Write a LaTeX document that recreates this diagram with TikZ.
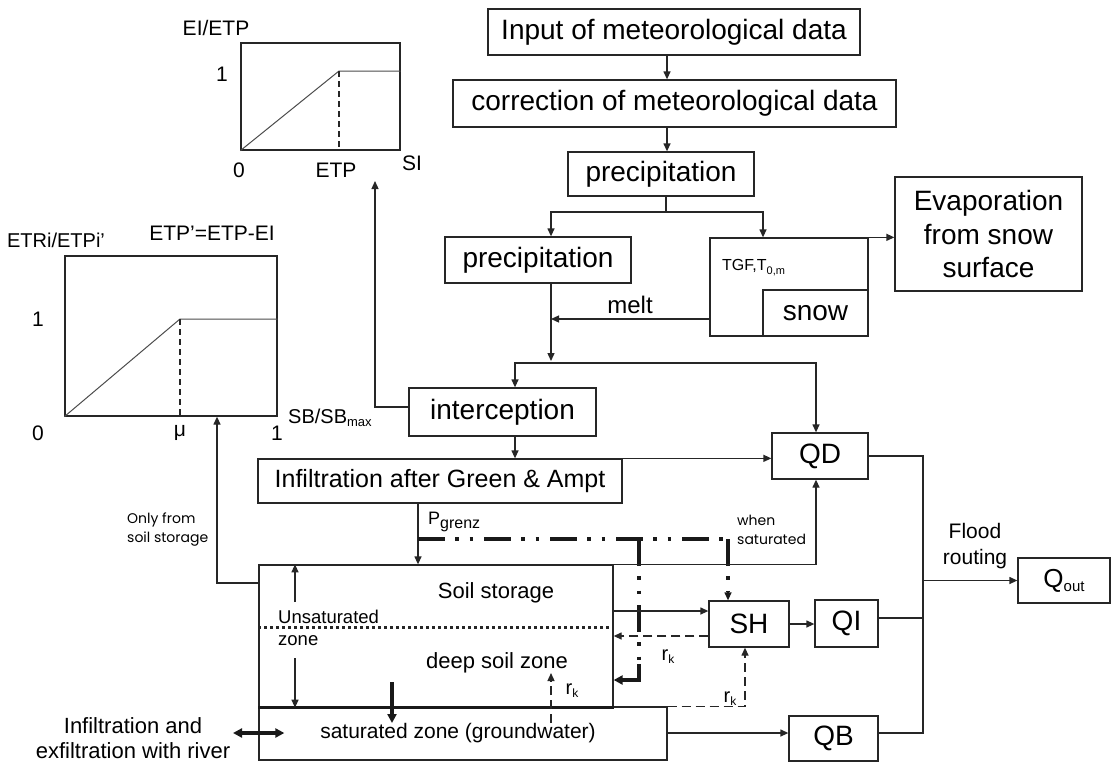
\documentclass[tikz,border=0pt]{standalone}
\usepackage{fontspec}
\setmainfont{Liberation Sans}
\newfontfamily\gfont{Poppins}
\usetikzlibrary{arrows.meta,calc}
\begin{document}
\begin{tikzpicture}[x=1pt,y=-1pt,
  ln/.style={line width=1.3pt, draw=black!85},
  box/.style={ln, rectangle, inner sep=0pt, align=center},
  tip/.style={-{Triangle[length=8pt,width=7pt]}},
  arr/.style={ln, tip},
  thk/.style={line width=3.2pt, draw=black!90},
  dsh/.style={dash pattern=on 9pt off 5pt},
  gdash/.style={ln, dash pattern=on 6pt off 4pt},
  dd/.style={line width=3.4pt, draw=black!90, dash pattern=on 27pt off 10pt on 3.5pt off 11pt on 3.5pt off 11pt},
  f28/.style={font=\fontsize{28}{33.5}\selectfont},
  f25/.style={font=\fontsize{25}{30}\selectfont},
  f24/.style={font=\fontsize{24}{28}\selectfont},
  f22/.style={font=\fontsize{22}{25}\selectfont},
  f21/.style={font=\fontsize{21}{26}\selectfont},
  f20/.style={font=\fontsize{20}{24}\selectfont},
  f18/.style={font=\fontsize{18.5}{22}\selectfont},
  fg/.style={font=\gfont\fontsize{14}{19}\selectfont},
  lbl/.style={inner sep=0pt}
]
\useasboundingbox (0,0) rectangle (1113,763);
\fill[white] (0,0) rectangle (1113,763);

% ---------- boxes ----------
\node[box,f28,minimum width=372pt,minimum height=46pt] (input) at (674,32) {Input of meteorological data};
\node[box,f28,minimum width=443pt,minimum height=47pt] (corr) at (674.5,103.5) {correction of meteorological data};
\node[box,f28,minimum width=186pt,minimum height=44pt] (prec1) at (661,174) {precipitation};
\node[box,f28,minimum width=186pt,minimum height=46pt] (prec2) at (538,260) {precipitation};
\node[box,minimum width=158pt,minimum height=98pt] (snowo) at (789,287) {};
\node[box,f28,minimum width=105pt,minimum height=46pt] (snow) at (815.5,313) {snow};
\node[box,f28,minimum width=187pt,minimum height=114pt] (evap) at (988.5,234) {Evaporation\\from snow\\surface};
\node[box,f28,minimum width=187pt,minimum height=48pt] (intc) at (502.5,412) {interception};
\node[box,f25,minimum width=364pt,minimum height=44pt] (infil) at (440,481) {Infiltration after Green \& Ampt};
\node[box,f28,minimum width=96pt,minimum height=46pt] (QD) at (820,456) {QD};
\node[box,minimum width=354pt,minimum height=142pt] (soil) at (436,636) {};
\node[box,minimum width=408pt,minimum height=53pt] (sat) at (463,733.5) {};
\node[box,f28,minimum width=80pt,minimum height=46pt] (SH) at (749,624) {SH};
\node[box,f28,minimum width=63pt,minimum height=47pt] (QI) at (846.5,623.5) {QI};
\node[box,f28,minimum width=89pt,minimum height=45pt] (QB) at (833.5,738.5) {QB};
\node[box,minimum width=92pt,minimum height=45pt] (Qout) at (1064,580.5) {};
\node[lbl,font=\fontsize{26}{26}\selectfont] at (Qout.center) {Q\raisebox{-4pt}{\fontsize{15}{15}\selectfont out}};

% ---------- graphs ----------
\node[box,minimum width=159pt,minimum height=107pt] (g1) at (320.5,96.5) {};
\draw[line width=1pt,draw=black!70] (g1.south west) -- (339,71) -- (g1.east |- 0,71);
\draw[gdash] (339,71) -- (339,150);
\node[lbl,f21] at (216,28) {EI/ETP};
\node[lbl,f21] at (222,74) {1};
\node[lbl,f21] at (239,170) {0};
\node[lbl,f21] at (336,170) {ETP};
\node[lbl,f21] at (412,163) {SI};

\node[box,minimum width=212pt,minimum height=160pt] (g2) at (171,336) {};
\draw[line width=1pt,draw=black!70] (g2.south west) -- (180,319) -- (g2.east |- 0,319);
\draw[gdash] (180,319) -- (180,416);
\node[lbl,f20] at (56,240) {ETRi/ETPi’};
\node[lbl,f21] at (212,233) {ETP’=ETP-EI};
\node[lbl,f21] at (38,319) {1};
\node[lbl,f21] at (38,433) {0};
\node[lbl,f21] at (180,433) {μ};
\node[lbl,f21] at (277,433) {1};
\node[lbl,f20,anchor=west] at (288,418) {SB/SB\raisebox{-3pt}{\fontsize{13}{13}\selectfont max}};

% ---------- coordinates ----------
\coordinate (split1) at (666,212);
\coordinate (hbar) at (551,363);
\coordinate (iy) at (0,407);
\coordinate (siTip) at (375,181);
\coordinate (lft) at (217,583);
\coordinate (dd1) at (418,539);
\coordinate (ddb) at (639,539);
\coordinate (ddr) at (728,539);
\coordinate (hook) at (639,680);
\coordinate (SHin) at (0,611);
\coordinate (ry1) at (0,636);
\coordinate (cx) at (923,0);
\coordinate (qby) at (0,733);
\coordinate (qiy) at (0,618);
\coordinate (dl) at (0,627);

% ---------- connectors ----------
\draw[arr] ([xshift=-7pt]input.south) -- ([xshift=-7.5pt]corr.north);
\draw[arr] ([xshift=-7.5pt]corr.south) -- ([xshift=6pt]prec1.north);
\draw[ln] ([xshift=5pt]prec1.south) -- (split1);
\draw[arr] (split1) -| ([xshift=13pt]prec2.north);
\draw[arr] (split1) -| ([xshift=-26pt]snowo.north);
\draw[arr] (snowo.north east) -- (evap.west |- snowo.north east);
% melt
\draw[arr] ($(snowo.west)+(0,32)$) -- (hbar |- 0,319);
\node[lbl,f24] at (630,305) {melt};
\node[lbl,anchor=west,font=\fontsize{16}{16}\selectfont] at (722,268) {TGF,T\raisebox{-4pt}{\fontsize{11}{11}\selectfont 0,m}};
\draw[arr] ([xshift=13pt]prec2.south) -- ($(hbar)+(0,-2)$);
\draw[arr] (hbar) -| ([xshift=12.5pt]intc.north);
\draw[arr] (hbar) -| ([xshift=-4pt]QD.north);
% interception -> graph 1
\draw[arr] (intc.west |- iy) -| (siTip);
\draw[arr] ([xshift=12.5pt]intc.south) -- ([xshift=75pt]infil.north);
\draw[arr] (infil.north east) -- (infil.north east -| QD.west);
% P grenz
\draw[arr] ([xshift=-22pt]infil.south) -- ([xshift=-18pt]soil.north);
\node[lbl,anchor=west,font=\fontsize{18}{18}\selectfont] at (428,522) {P\raisebox{-4pt}{\fontsize{16}{16}\selectfont grenz}};
% dash-dot lines
\draw[dd] (dd1) -- ($(ddr)+(1.7,0)$);
\draw[dd] (ddr) -- ([xshift=-21pt,yshift=8pt]SH.north);
\draw[ln,tip,draw=black!90] ([xshift=-21pt,yshift=8pt]SH.north) -- ([xshift=-21pt]SH.north);
\draw[dd] (ddb) -- ($(hook)+(0,-16)$);
\draw[thk,-{Triangle[length=9pt,width=9pt]}] ($(hook)+(0,-16)$) -- (hook) -- (soil.east |- hook);
% when saturated
\draw[arr] (soil.north east) -| ([xshift=-4pt]QD.south);
\node[lbl,fg,anchor=west,align=left] at (737,530) {when\\saturated};
% soil -> SH, SH -> soil
\draw[arr] (soil.east |- SHin) -- (SH.west |- SHin);
\draw[ln,dsh,tip] (SH.west |- ry1) -- (soil.east |- ry1);
\node[lbl,f20] at (668,657) {r\raisebox{-3pt}{\fontsize{12}{12}\selectfont k}};
% sat -> SH
\draw[ln,dsh,tip] (sat.north east) -| ([xshift=-4pt]SH.south);
\node[lbl,f20] at (730,699) {r\raisebox{-3pt}{\fontsize{12}{12}\selectfont k}};
% SH -> QI
\draw[arr] (SH.east) -- (SH.east -| QI.west);
% collector
\draw[ln] (QD.east) -| (cx |- qby) -- (QB.east |- qby);
\draw[ln] (QI.east |- qiy) -- (cx |- qiy);
\draw[arr] (cx |- Qout.west) -- (Qout.west);
\node[lbl,f21,align=center] at (975,546) {Flood\\routing};
\draw[arr] (sat.east |- qby) -- (QB.west |- qby);
% soil interior
\draw[line width=3pt,draw=black!85,dash pattern=on 3pt off 3pt] (soil.west |- dl) -- (soil.east |- dl);
\draw[line width=3.5pt,draw=black!90] (soil.south west) -- (soil.south east);
\node[lbl,f22] at (496,593) {Soil storage};
\node[lbl,f22] at (497,663) {deep soil zone};
\node[lbl,f21] at (458,733) {saturated zone (groundwater)};
\node[lbl,f18,anchor=west,align=left] at (278,628) {Unsaturated\\zone};
\coordinate (ua) at (295,602);
\coordinate (ub) at (295,658);
\draw[arr] (ua) -- (ua |- soil.north);
\draw[arr] (ub) -- (ub |- soil.south);
\coordinate (td) at (392,682);
\draw[thk,-{Triangle[length=9pt,width=9pt]}] (td) -- (td |- 0,723);
\coordinate (rk1) at (551,723);
\draw[ln,dsh,tip] (rk1) -- (rk1 |- 0,673);
\node[lbl,f20] at (572,691) {r\raisebox{-3pt}{\fontsize{12}{12}\selectfont k}};
% left side
\draw[arr] (soil.west |- lft) -| (lft |- g2.south);
\node[lbl,fg,anchor=west,align=left] at (127,530) {Only from\\soil storage};
\coordinate (rv) at (233,733);
\draw[thk,{Triangle[length=9pt,width=9pt]}-{Triangle[length=9pt,width=9pt]}] (rv) -- (sat.west |- rv) -- ++(26,0);
\node[lbl,align=center,font=\fontsize{22}{25}\selectfont] at (133,738) {Infiltration and\\exfiltration with river};
\end{tikzpicture}
\end{document}
